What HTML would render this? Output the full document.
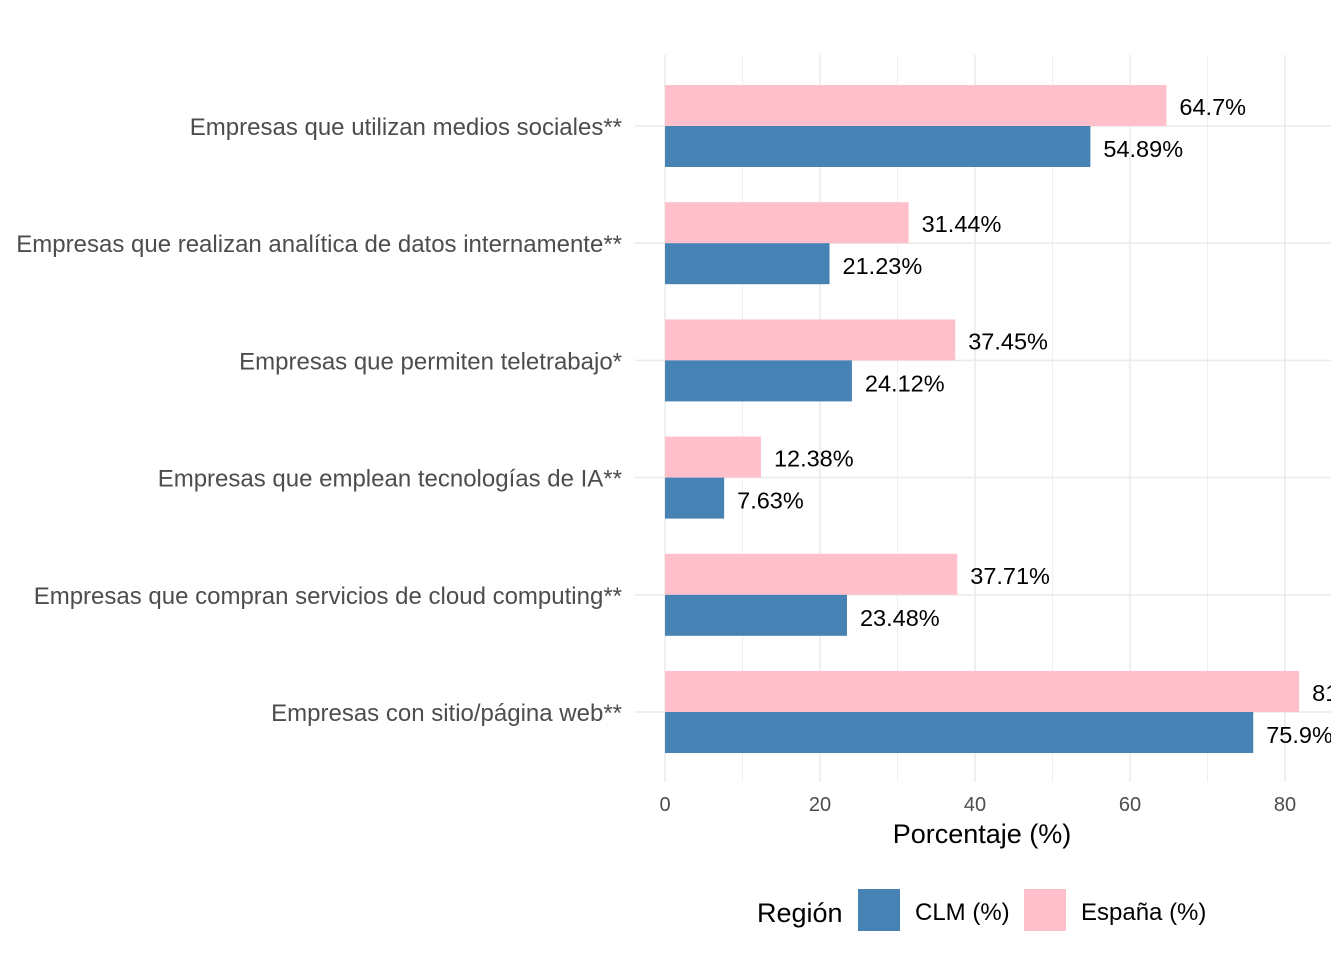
<!DOCTYPE html>
<html><head><meta charset="utf-8"><style>
body{margin:0;background:#fff;}
svg{display:block;font-family:"Liberation Sans",Arial,sans-serif;}
</style></head><body>
<svg id="chart" width="1344" height="960" xmlns="http://www.w3.org/2000/svg">
<defs><clipPath id="pc"><rect x="0" y="0" width="1331" height="960"/></clipPath></defs>
<g id="grid"></g>
<g id="bars" clip-path="url(#pc)"></g>
<g id="ylabels"></g>
<g id="xticks"></g>
<text x="982" y="843" font-size="27" text-anchor="middle" fill="#000">Porcentaje (%)</text>
<g>
<text x="757" y="922" font-size="27" fill="#000">Región</text>
<rect x="858" y="889" width="42" height="42" fill="#4682B4"/>
<text x="915" y="920" font-size="24" fill="#000">CLM (%)</text>
<rect x="1024" y="889" width="42" height="42" fill="#FFC0CB"/>
<text x="1081" y="920" font-size="24" fill="#000">España (%)</text>
</g>
</svg>
<script>
const categories=["Empresas que utilizan medios sociales**","Empresas que realizan analítica de datos internamente**","Empresas que permiten teletrabajo*","Empresas que emplean tecnologías de IA**","Empresas que compran servicios de cloud computing**","Empresas con sitio/página web**"];
const clmValues=[54.89,21.23,24.12,7.63,23.48,75.9];
const espValues=[64.7,31.44,37.45,12.38,37.71,81.83];
const clmLabels=["54.89%","21.23%","24.12%","7.63%","23.48%","75.9%"];
const espLabels=["64.7%","31.44%","37.45%","12.38%","37.71%","81.83%"];
const xTicks=[0,20,40,60,80];
const NS="http://www.w3.org/2000/svg";
const x=v=>665+v*7.75;
const yc=i=>126+i*117.2;
function mk(p,t,a){const e=document.createElementNS(NS,t);for(const k in a)e.setAttribute(k,a[k]);p.appendChild(e);return e;}
const grid=document.getElementById('grid'),bars=document.getElementById('bars'),yl=document.getElementById('ylabels'),xt=document.getElementById('xticks');
for(let v=0;v<=90;v+=10){if(x(v)>1331)break;const l=mk(grid,'line',{x1:x(v),x2:x(v),y1:55,y2:782,stroke:'#ebebeb','stroke-width':v%20==0?1.6:0.8});

}
categories.forEach((c,i)=>{const l=mk(grid,'line',{x1:635,x2:1331,y1:yc(i),y2:yc(i),stroke:'#ebebeb','stroke-width':1.6});


const t=mk(yl,'text',{x:622,y:yc(i)+9,'font-size':24,'text-anchor':'end',fill:'#4d4d4d'});t.textContent=c;


const e=mk(bars,'rect',{x:x(0),y:yc(i)-41,width:x(espValues[i])-x(0),height:41,fill:'#FFC0CB'});


const b=mk(bars,'rect',{x:x(0),y:yc(i),width:x(clmValues[i])-x(0),height:41,fill:'#4682B4'});


const te=mk(bars,'text',{x:x(espValues[i])+13,y:yc(i)-11,'font-size':23.5,fill:'#000'});te.textContent=espLabels[i];


const tb=mk(bars,'text',{x:x(clmValues[i])+13,y:yc(i)+31,'font-size':23.5,fill:'#000'});tb.textContent=clmLabels[i];

});
xTicks.forEach(v=>{const t=mk(xt,'text',{x:x(v),y:811,'font-size':20,'text-anchor':'middle',fill:'#4d4d4d'});t.textContent=v;

});
</script>
</body></html>
